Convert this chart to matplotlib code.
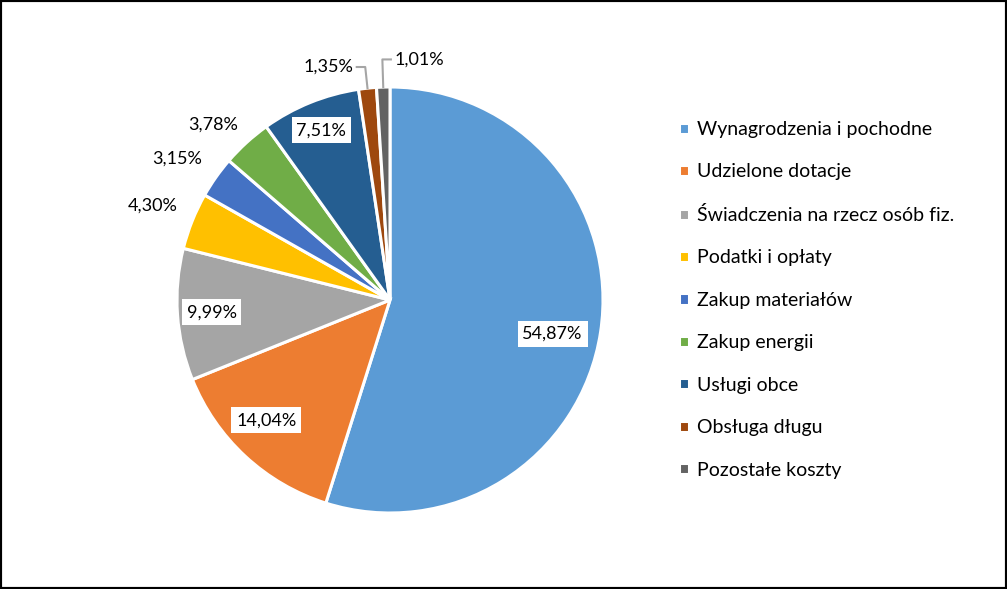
import numpy as np
import matplotlib.pyplot as plt
from matplotlib.patches import Rectangle

plt.rcParams['font.family'] = ['Lato', 'DejaVu Sans']

categories = ['Wynagrodzenia i pochodne', 'Udzielone dotacje', 'Świadczenia na rzecz osób fiz.',
              'Podatki i opłaty', 'Zakup materiałów', 'Zakup energii', 'Usługi obce',
              'Obsługa długu', 'Pozostałe koszty']
shares = [54.87, 14.04, 9.99, 4.30, 3.15, 3.78, 7.51, 1.35, 1.01]
colors = ['#5B9BD5', '#ED7D31', '#A5A5A5', '#FFC000', '#4472C4',
          '#70AD47', '#255E91', '#9E480E', '#636363']

# label placement: 'in' = boxed inside, 'out' = plain outside, 'L'/'R' = leader line to that side
label_mode = ['in', 'in', 'in', 'out', 'out', 'out', 'in', 'L', 'R']
label_r = [0.78, 0.81, 0.84, 1.20, 1.20, 1.17, 0.86, 1.10, 1.13]
label_shift = [-3, -3, 0, 0, 1.5, 3, 0, 0, 0]  # degrees, nudges away from the mid angle

W, H = 1007, 589
fig = plt.figure(figsize=(W / 100, H / 100), dpi=100)
cx, cy, R = 390, 300, 213
ax = fig.add_axes([(cx - R) / W, (H - cy - R) / H, 2 * R / W, 2 * R / H])

wedges, _ = ax.pie(shares, colors=colors, startangle=90, counterclock=False, radius=1,
                   wedgeprops=dict(edgecolor='white', linewidth=2.2))
ax.set_xlim(-1, 1)
ax.set_ylim(-1, 1)
ax.set_aspect('equal')
ax.axis('off')

fs = 13
for w, v, mode, r, sh in zip(wedges, shares, label_mode, label_r, label_shift):
    ang = np.deg2rad((w.theta1 + w.theta2) / 2 + sh)
    txt = f'{v:.2f}'.replace('.', ',') + '%'
    x, y = r * np.cos(ang), r * np.sin(ang)
    if mode == 'in':
        ax.text(x, y, txt, ha='center', va='center', fontsize=fs, color='black',
                bbox=dict(facecolor='white', edgecolor='none', pad=3.5))
    elif mode == 'out':
        ax.text(x, y, txt, ha='center', va='center', fontsize=fs, color='black')
    else:
        x0, y0 = np.cos(ang), np.sin(ang)
        side = -1 if mode == 'L' else 1
        x2 = x + side * 0.04
        ax.plot([x0, x, x2], [y0, y, y], color='#A5A5A5', lw=1.5, clip_on=False)
        ax.text(x2 + side * 0.015, y, txt, ha='right' if side < 0 else 'left',
                va='center', fontsize=fs, color='black')

ax.legend(wedges, categories, loc='upper left', bbox_to_anchor=(679 / W, 1 - 121 / H),
          bbox_transform=fig.transFigure, frameon=False, fontsize=14,
          handlelength=0.5, handleheight=0.5, handletextpad=0.45, labelspacing=1.31,
          borderpad=0, borderaxespad=0)

fig.patches.append(Rectangle((0, 0), 1, 1, transform=fig.transFigure, fill=False,
                             edgecolor='black', linewidth=3, zorder=10))

fig.savefig('out.png', dpi=100, facecolor='white')
